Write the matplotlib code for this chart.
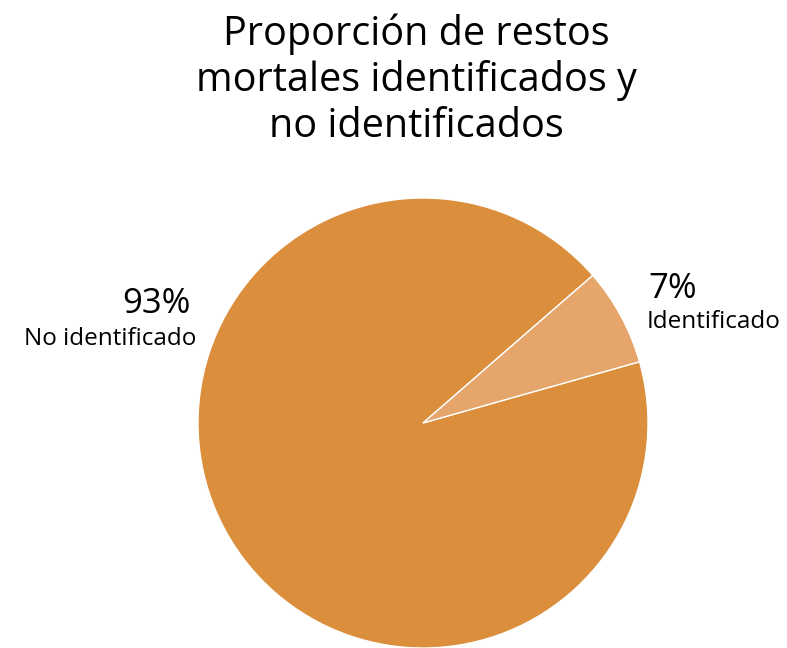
import matplotlib.pyplot as plt

labels = ["No identificado", "Identificado"]
values = [93, 7]
colors = ["#DB8E3B", "#E5A56B"]

plt.rcParams["font.family"] = ["Open Sans", "DejaVu Sans"]

W, H = 787, 648
fig = plt.figure(figsize=(W / 100, H / 100), dpi=100)


def px(x, y):
    # pixel position (top-left origin) -> figure fraction
    return x / W, 1 - y / H


# pie: centre (423, 423), radius 225 px
cx, cy, r = 423, 423, 225
ax = fig.add_axes([(cx - r) / W, (H - cy - r) / H, 2 * r / W, 2 * r / H])
ax.pie(values, colors=colors, startangle=41, counterclock=True, radius=1,
       wedgeprops=dict(edgecolor="white", linewidth=1))
ax.set_xlim(-1, 1)
ax.set_ylim(-1, 1)
ax.set_aspect("equal")
ax.axis("off")

fig.text(*px(416, 80), "Proporción de restos\nmortales identificados y\nno identificados",
         ha="center", va="center", fontsize=28.5, linespacing=1.17)

# value labels
fig.text(*px(191, 313), f"{values[0]}%", ha="right", va="baseline", fontsize=25)
fig.text(*px(196, 345), labels[0], ha="right", va="baseline", fontsize=17.5)
fig.text(*px(648, 298), f"{values[1]}%", ha="left", va="baseline", fontsize=25)
fig.text(*px(647, 328), labels[1], ha="left", va="baseline", fontsize=17.5)

fig.savefig("out.png", dpi=100, facecolor="white")
